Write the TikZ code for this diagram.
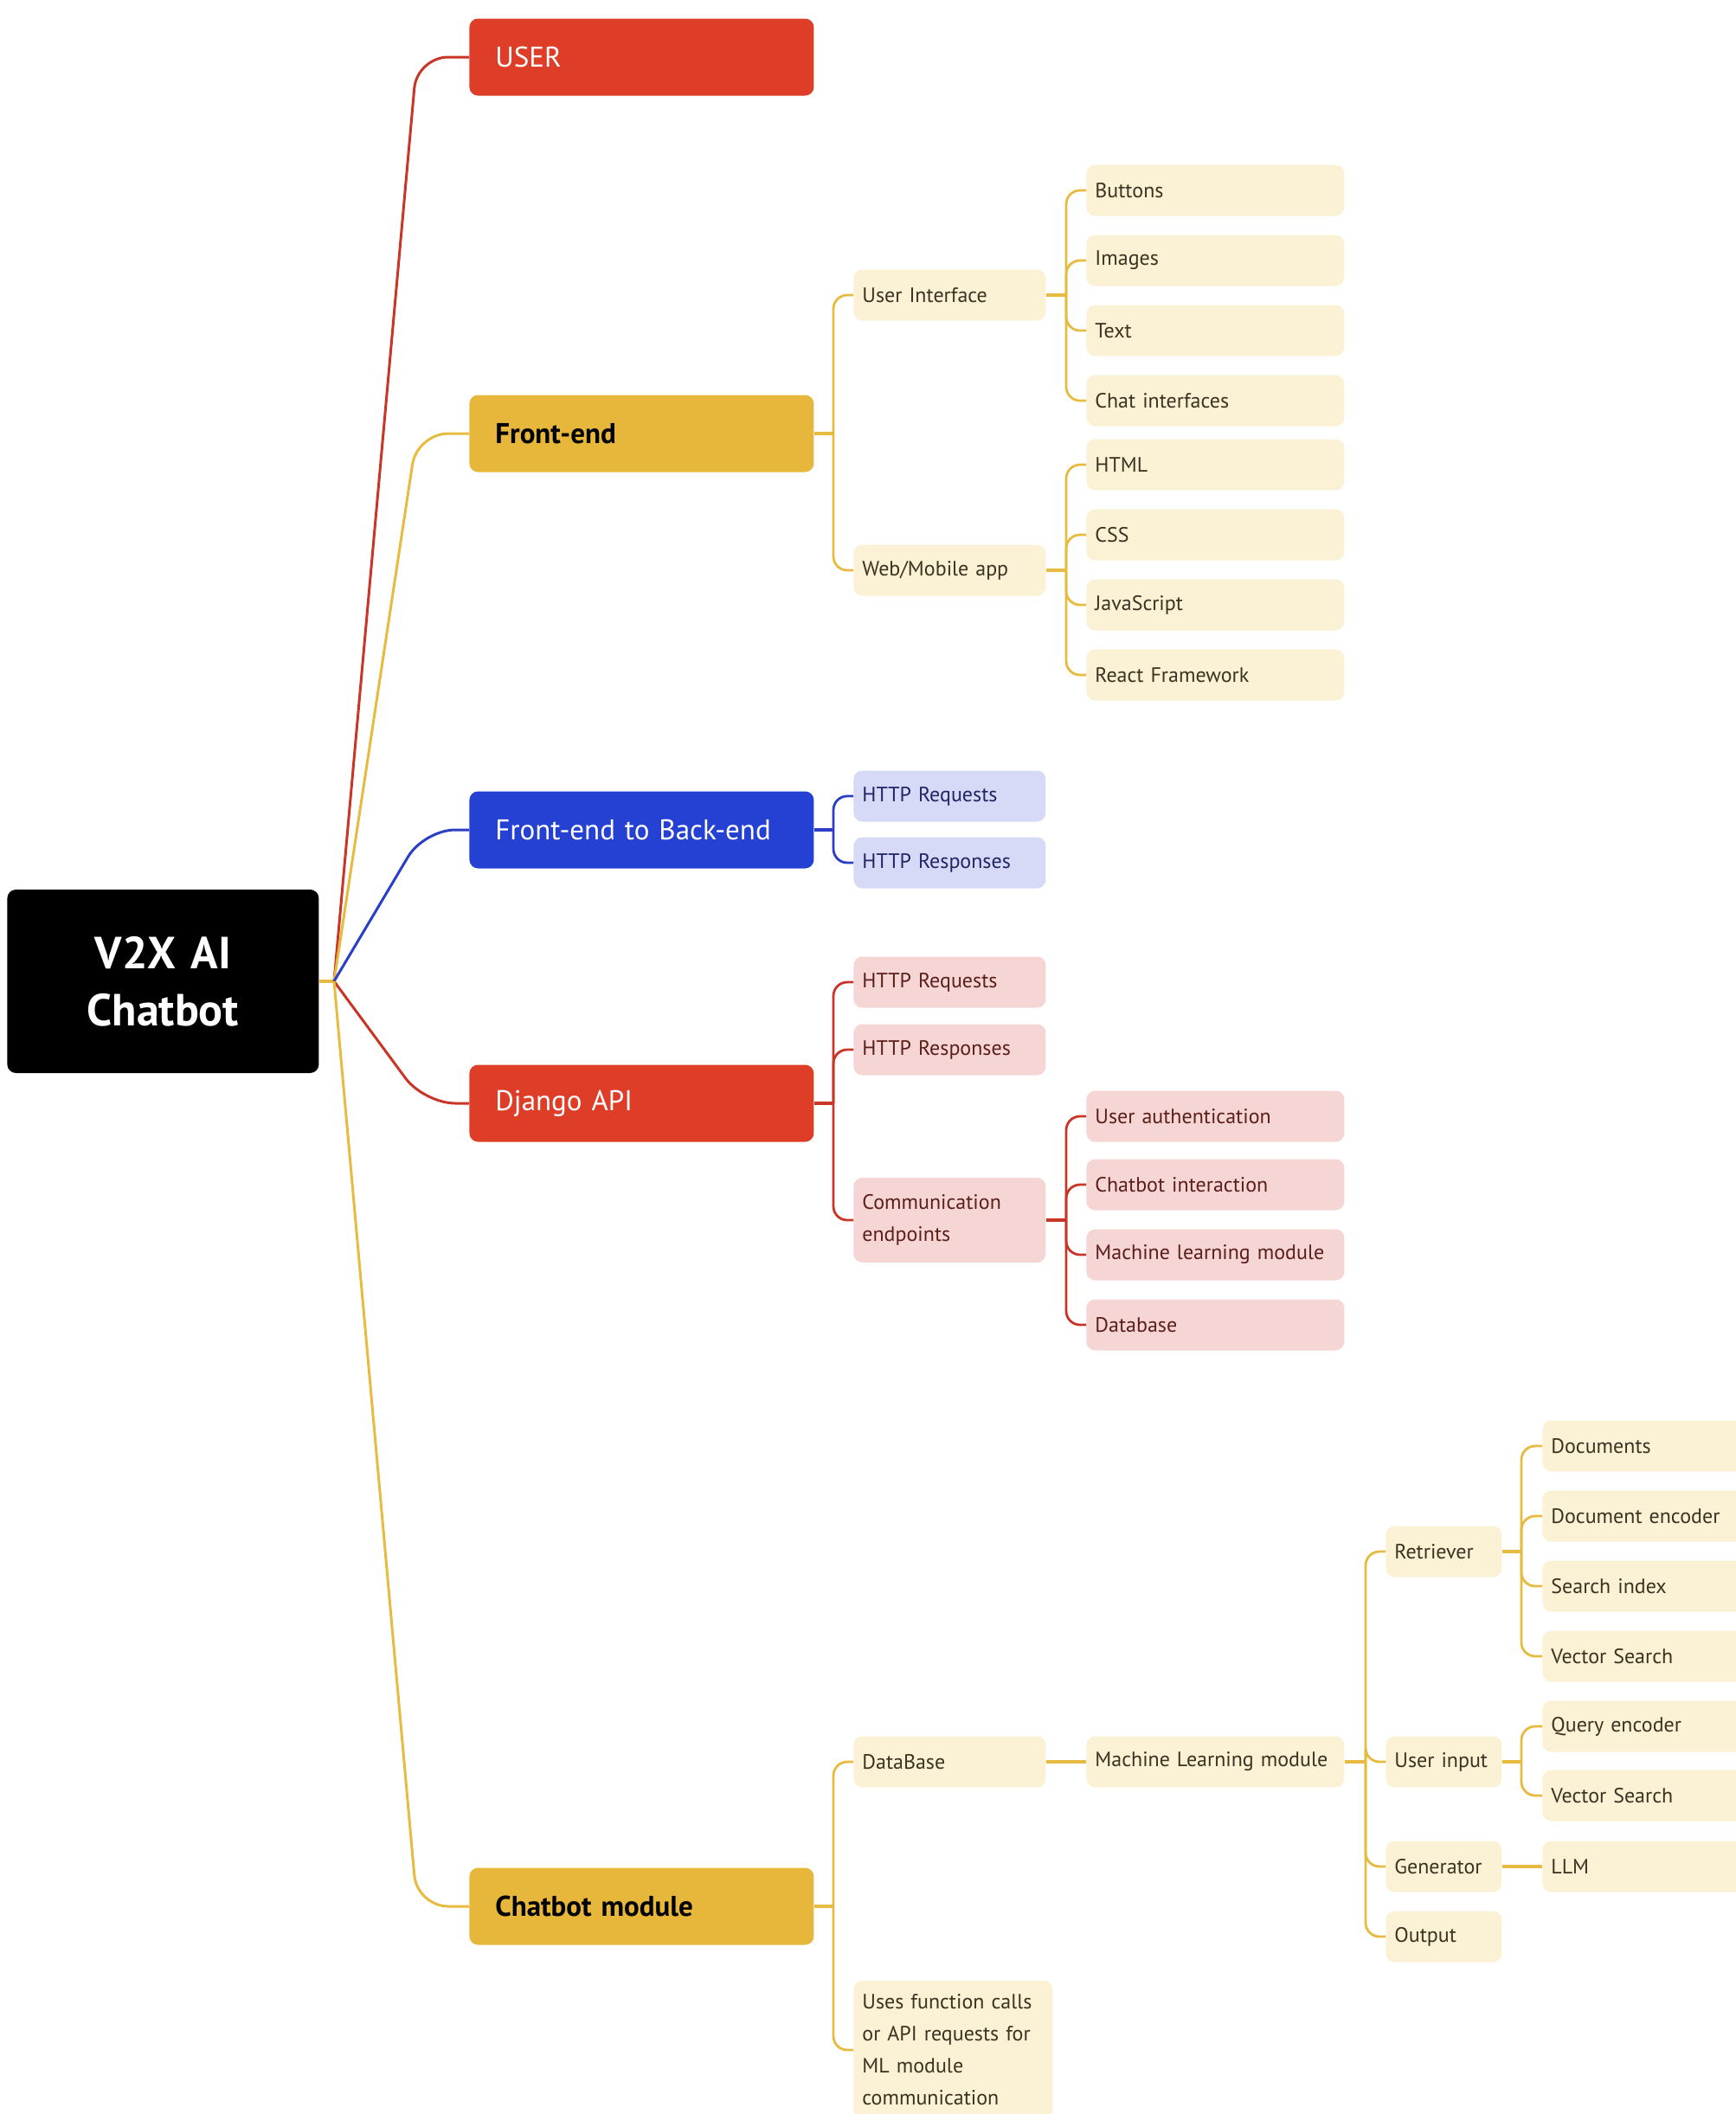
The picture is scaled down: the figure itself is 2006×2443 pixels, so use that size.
\documentclass[tikz,border=0pt]{standalone}
\usepackage{fontspec}
\setmainfont{PT Sans}
\definecolor{cred}{HTML}{DE3D27}
\definecolor{cgold}{HTML}{E6B73B}
\definecolor{cblue}{HTML}{2441D4}
\definecolor{lred}{HTML}{C93526}
\definecolor{lgold}{HTML}{E6BB40}
\definecolor{lblue}{HTML}{2A3FC6}
\definecolor{fyel}{HTML}{FBF1D4}
\definecolor{fblu}{HTML}{D6DAF6}
\definecolor{fpnk}{HTML}{F6D6D4}
\definecolor{tyel}{HTML}{3B3322}
\definecolor{tblu}{HTML}{1F2566}
\definecolor{tpnk}{HTML}{5C1E1A}
\tikzset{
  basebox/.style={rectangle, rounded corners=5pt, anchor=west, align=left},
  rootbox/.style={basebox, fill=black, text=white, align=center, text width=170pt, inner xsep=5pt,
    minimum height=106pt, font=\fontsize{26}{33}\selectfont\bfseries},
  lone/.style={basebox, text width=169pt, inner xsep=15pt, minimum height=44.5pt,
    font=\fontsize{16.5}{20}\selectfont},
  ltwo/.style={basebox, text width=101pt, inner xsep=5pt, minimum height=29.5pt,
    font=\fontsize{12}{18.5}\selectfont},
  lthree/.style={basebox, text width=139pt, inner xsep=5pt, minimum height=29.5pt,
    font=\fontsize{12}{18.5}\selectfont},
  lfour/.style={basebox, text width=57pt, inner xsep=5pt, minimum height=29.5pt,
    font=\fontsize{12}{18.5}\selectfont},
  lfive/.style={basebox, text width=160pt, inner xsep=5pt, minimum height=29.5pt,
    font=\fontsize{12}{18.5}\selectfont},
  yel/.style={fill=fyel, text=tyel},
  blu/.style={fill=fblu, text=tblu},
  pnk/.style={fill=fpnk, text=tpnk},
  conn/.style={line width=1.4pt, rounded corners=8pt},
  stub/.style={line width=2.4pt},
  mainconn/.style={line width=1.5pt, rounded corners=18pt},
}
\begin{document}
\begin{tikzpicture}[x=0.5pt,y=-0.5pt]
\useasboundingbox (0,0) rectangle (2006,2443);
\clip (0,0) rectangle (2006,2443);

% root
\node[rootbox] (root) at (8,1134) {V2X AI\\Chatbot};

% level 1
\node[lone, fill=cred, text=white] (user) at (542,66) {USER};
\node[lone, fill=cgold, text=black, font=\fontsize{16.5}{20}\selectfont\bfseries] (fe) at (542,501) {Front-end};
\node[lone, fill=cblue, text=white] (febe) at (542,959) {Front-end to Back-end};
\node[lone, fill=cred, text=white] (dj) at (542,1275) {Django API};
\node[lone, fill=cgold, text=black, font=\fontsize{16.5}{20}\selectfont\bfseries] (cb) at (542,2203) {Chatbot module};

% front-end subtree
\node[ltwo, yel] (ui) at (986,341) {User Interface};
\node[ltwo, yel] (web) at (986,659) {Web/Mobile app};
\node[lthree, yel] (btn) at (1255,220) {Buttons};
\node[lthree, yel] (img) at (1255,301) {Images};
\node[lthree, yel] (txt) at (1255,382) {Text};
\node[lthree, yel] (chat) at (1255,463) {Chat interfaces};
\node[lthree, yel] (html) at (1255,537) {HTML};
\node[lthree, yel] (css) at (1255,618) {CSS};
\node[lthree, yel] (js) at (1255,699) {JavaScript};
\node[lthree, yel] (react) at (1255,780) {React Framework};

% front-end to back-end subtree
\node[ltwo, blu] (breq) at (986,920) {HTTP Requests};
\node[ltwo, blu] (bresp) at (986,997) {HTTP Responses};

% django subtree
\node[ltwo, pnk] (dreq) at (986,1135) {HTTP Requests};
\node[ltwo, pnk] (dresp) at (986,1213) {HTTP Responses};
\node[ltwo, pnk, minimum height=49pt] (comm) at (986,1410) {Communication\\endpoints};
\node[lthree, pnk] (auth) at (1255,1290) {User authentication};
\node[lthree, pnk] (cint) at (1255,1369) {Chatbot interaction};
\node[lthree, pnk] (mlm) at (1255,1450) {Machine learning module};
\node[lthree, pnk] (dbase) at (1255,1531) {Database};

% chatbot subtree
\node[ltwo, yel] (db) at (986,2036) {DataBase};
\node[ltwo, yel, text width=105pt, inner ysep=8pt] (uses) at (986,2369) {Uses function calls\\or API requests for\\ML module\\communication};
\node[lthree, yel] (ml) at (1255,2036) {Machine Learning module};
\node[lfour, yel] (ret) at (1601,1793) {Retriever};
\node[lfour, yel] (uin) at (1601,2036) {User input};
\node[lfour, yel] (gen) at (1601,2157) {Generator};
\node[lfour, yel] (out) at (1601,2238) {Output};
\node[lfive, yel] (docs) at (1782,1671) {Documents};
\node[lfive, yel] (denc) at (1782,1752) {Document encoder};
\node[lfive, yel] (sidx) at (1782,1833) {Search index};
\node[lfive, yel] (vs1) at (1782,1914) {Vector Search};
\node[lfive, yel] (qenc) at (1782,1995) {Query encoder};
\node[lfive, yel] (vs2) at (1782,2075) {Vector Search};
\node[lfive, yel] (llm) at (1782,2157) {LLM};

% root connectors
\coordinate (rootT) at (386,1134);
\draw[stub, lgold] (root.east) -- (rootT);
\draw[mainconn, lred] (rootT) -- (482,66) -- (user.west);
\draw[mainconn, lgold] (rootT) -- (482,501) -- (fe.west);
\draw[mainconn, lblue] (rootT) -- (490,959) -- (febe.west);
\draw[mainconn, lred] (rootT) -- (490,1275) -- (dj.west);
\draw[mainconn, lgold] (rootT) -- (482,2203) -- (cb.west);

% front-end connectors
\coordinate (feT) at (963,501);
\draw[stub, lgold] (fe.east) -- (feT);
\draw[conn, lgold] (feT) |- (ui.west);
\draw[conn, lgold] (feT) |- (web.west);
\coordinate (uiT) at (1232,341);
\draw[stub, lgold] (ui.east) -- (uiT);
\foreach \c in {btn,img,txt,chat} \draw[conn, lgold] (uiT) |- (\c.west);
\coordinate (webT) at (1232,659);
\draw[stub, lgold] (web.east) -- (webT);
\foreach \c in {html,css,js,react} \draw[conn, lgold] (webT) |- (\c.west);

% front-end to back-end connectors
\coordinate (febeT) at (963,959);
\draw[stub, lblue] (febe.east) -- (febeT);
\draw[conn, lblue] (febeT) |- (breq.west);
\draw[conn, lblue] (febeT) |- (bresp.west);

% django connectors
\coordinate (djT) at (963,1275);
\draw[stub, lred] (dj.east) -- (djT);
\foreach \c in {dreq,dresp,comm} \draw[conn, lred] (djT) |- (\c.west);
\coordinate (commT) at (1232,1410);
\draw[stub, lred] (comm.east) -- (commT);
\foreach \c in {auth,cint,mlm,dbase} \draw[conn, lred] (commT) |- (\c.west);

% chatbot connectors
\coordinate (cbT) at (963,2203);
\draw[stub, lgold] (cb.east) -- (cbT);
\draw[conn, lgold] (cbT) |- (db.west);
\draw[conn, lgold] (cbT) |- (uses.west);
\draw[stub, lgold] (db.east) -- (ml.west);
\coordinate (mlT) at (1578,2036);
\draw[stub, lgold] (ml.east) -- (mlT);
\foreach \c in {ret,uin,gen,out} \draw[conn, lgold] (mlT) |- (\c.west);
\coordinate (retT) at (1758,1793);
\draw[stub, lgold] (ret.east) -- (retT);
\foreach \c in {docs,denc,sidx,vs1} \draw[conn, lgold] (retT) |- (\c.west);
\coordinate (uinT) at (1758,2036);
\draw[stub, lgold] (uin.east) -- (uinT);
\foreach \c in {qenc,vs2} \draw[conn, lgold] (uinT) |- (\c.west);
\draw[stub, lgold] (gen.east) -- (llm.west);
\end{tikzpicture}
\end{document}
